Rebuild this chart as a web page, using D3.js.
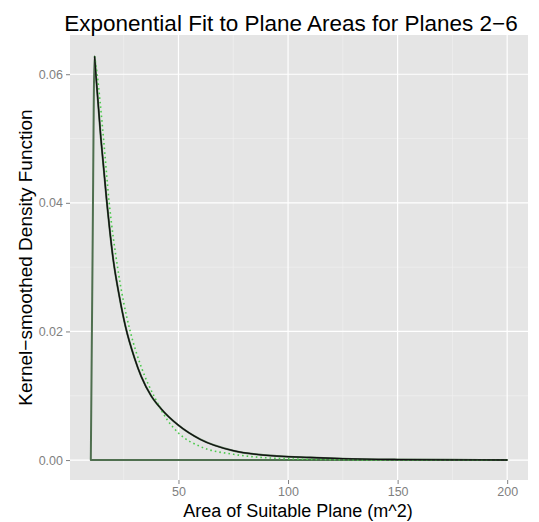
<!DOCTYPE html>
<html>
<head>
<meta charset="utf-8">
<script src="https://cdn.jsdelivr.net/npm/d3@7"></script>
<style>
  html, body { margin: 0; padding: 0; background: #ffffff; }
  svg { display: block; }
</style>
</head>
<body>
<svg id="chart" width="539" height="522"></svg>
<script>
// ---- data ----
const densX = [10, 10.8, 11.7, 12.3, 14.6, 17.2, 20.3, 23, 25.8, 30, 33, 37.5, 42, 50, 60, 75, 96, 110, 125, 150, 175, 200];
const densY = [0, 0.032, 0.0628, 0.060, 0.050, 0.0405, 0.0310, 0.0255, 0.0208, 0.0158, 0.0130, 0.0100, 0.0080, 0.0054, 0.0032, 0.00145, 0.0006, 0.0004, 0.00022, 0.00008, 0.00003, 0.00001];
const fitX = [11.7, 12.9, 14.3, 15.8, 18.4, 22.2, 25, 28, 33, 39.5, 45, 50, 60, 75, 100, 125, 150, 175, 200];
const fitY = [0.0628, 0.060, 0.0555, 0.050, 0.040, 0.030, 0.0245, 0.020, 0.0145, 0.0095, 0.0062, 0.0042, 0.0021, 0.0009, 0.0002, 0.00005, 0.00001, 0, 0];
const xTicks = [50, 100, 150, 200];
const xMinor = [25, 75, 125, 175];
const yTicks = [0, 0.02, 0.04, 0.06];
const yMinor = [0.01, 0.03, 0.05];
const titleText = "Exponential Fit to Plane Areas for Planes 2\u22126";
const xLabel = "Area of Suitable Plane (m^2)";
const yLabel = "Kernel\u2212smoothed Density Function";

// ---- layout ----
const svg = d3.select("#chart");
const P = { left: 70, right: 528, top: 35, bottom: 480 };
const x = d3.scaleLinear().domain([0.5, 209.5]).range([P.left, P.right]);
const y = d3.scaleLinear().domain([-0.0031, 0.0661]).range([P.bottom, P.top]);
const font = "'Liberation Sans', Arial, Helvetica, sans-serif";

// panel background
svg.append("rect")
  .attr("x", P.left).attr("y", P.top)
  .attr("width", P.right - P.left).attr("height", P.bottom - P.top)
  .attr("fill", "#e5e5e5");

// minor grid
const g = svg.append("g");
g.selectAll(".vmin").data(xMinor).join("line")
  .attr("x1", d => x(d)).attr("x2", d => x(d))
  .attr("y1", P.top).attr("y2", P.bottom)
  .attr("stroke", "#f2f2f2").attr("stroke-width", 0.6);
g.selectAll(".hmin").data(yMinor).join("line")
  .attr("y1", d => y(d)).attr("y2", d => y(d))
  .attr("x1", P.left).attr("x2", P.right)
  .attr("stroke", "#f2f2f2").attr("stroke-width", 0.6);
// major grid
g.selectAll(".vmaj").data(xTicks).join("line")
  .attr("x1", d => x(d)).attr("x2", d => x(d))
  .attr("y1", P.top).attr("y2", P.bottom)
  .attr("stroke", "#ffffff").attr("stroke-width", 1.2);
g.selectAll(".hmaj").data(yTicks).join("line")
  .attr("y1", d => y(d)).attr("y2", d => y(d))
  .attr("x1", P.left).attr("x2", P.right)
  .attr("stroke", "#ffffff").attr("stroke-width", 1.2);

const lineGen = d3.line().x(d => x(d[0])).y(d => y(d[1])).curve(d3.curveMonotoneX);
const densPts = densX.map((d, i) => [d, densY[i]]);

// density polygon outline (dark green)
svg.append("path")
  .attr("d", lineGen(densPts) + "L" + x(200) + "," + y(0) + "L" + x(10) + "," + y(0) + "Z")
  .attr("fill", "none")
  .attr("stroke", "#4f6f4f").attr("stroke-width", 2).attr("stroke-linejoin", "round");

// exponential fit (dotted green)
const fitPts = fitX.map((d, i) => [d, fitY[i]]);
svg.append("path")
  .attr("d", lineGen(fitPts))
  .attr("fill", "none")
  .attr("stroke", "#4cc94c").attr("stroke-width", 1.6)
  .attr("stroke-dasharray", "1.6,3");

// black density curve (descending part)
const blackPts = densPts.filter(d => d[0] >= 11.7);
svg.append("path")
  .attr("d", lineGen(blackPts))
  .attr("fill", "none")
  .attr("stroke", "#111111").attr("stroke-width", 1.3);

// axes
const xAxis = d3.axisBottom(x).tickValues(xTicks).tickSize(4).tickPadding(3).tickFormat(d3.format("d"));
const xa = svg.append("g").attr("transform", `translate(0,${P.bottom})`).call(xAxis);
const yAxis = d3.axisLeft(y).tickValues(yTicks).tickSize(4).tickPadding(3).tickFormat(d3.format(".2f"));
const ya = svg.append("g").attr("transform", `translate(${P.left},0)`).call(yAxis);
[xa, ya].forEach(a => {
  a.select(".domain").remove();
  a.selectAll(".tick line").attr("stroke", "#7f7f7f");
  a.selectAll(".tick text").attr("fill", "#7f7f7f")
    .style("font-family", font).style("font-size", "12.5px");
});

// titles
svg.append("text")
  .attr("x", 291).attr("y", 31)
  .attr("text-anchor", "middle")
  .style("font-family", font).style("font-size", "22.5px").attr("fill", "#000")
  .text(titleText);
svg.append("text")
  .attr("x", 298).attr("y", 517)
  .attr("text-anchor", "middle")
  .style("font-family", font).style("font-size", "18px").attr("fill", "#000")
  .text(xLabel);
svg.append("text")
  .attr("transform", `translate(32,${(P.top + P.bottom) / 2}) rotate(-90)`)
  .attr("text-anchor", "middle")
  .style("font-family", font).style("font-size", "19px").attr("fill", "#000")
  .text(yLabel);
</script>
</body>
</html>
